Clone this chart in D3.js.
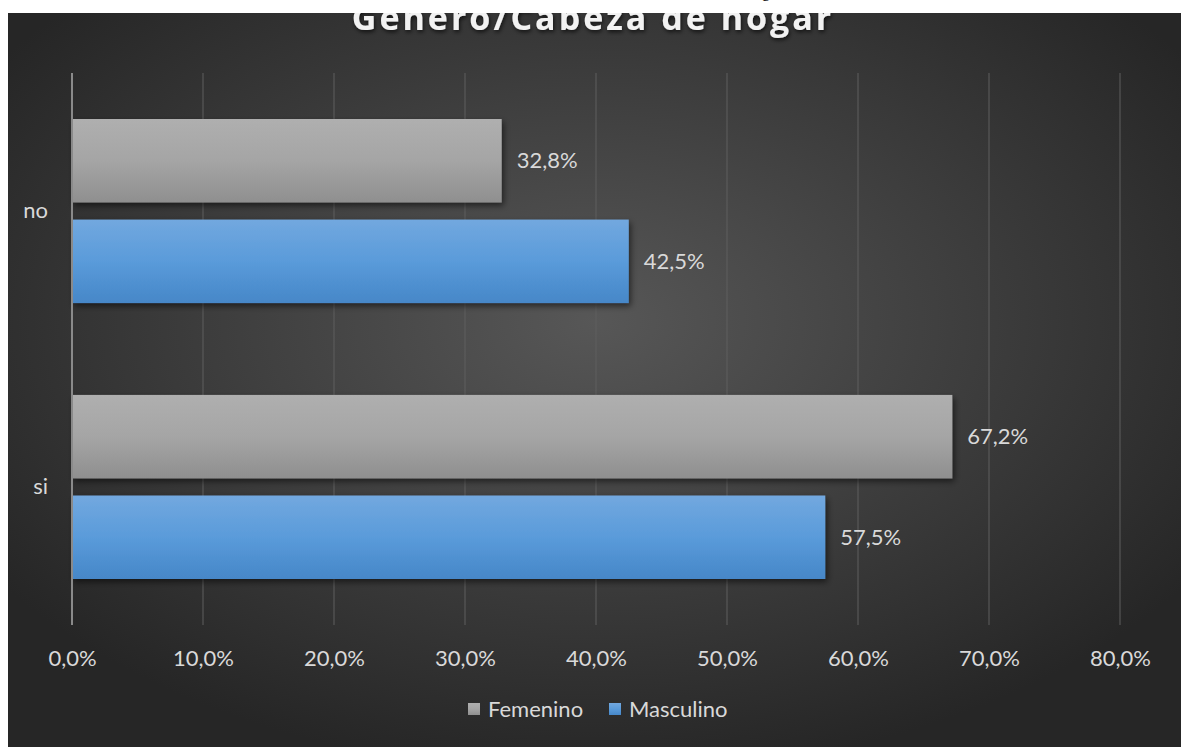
<!DOCTYPE html>
<html><head><meta charset="utf-8">
<script src="https://cdn.jsdelivr.net/npm/d3@7"></script>
<style>html,body{margin:0;padding:0;background:#fff;}svg{display:block;}</style>
</head><body>
<script>
const categories = ["no", "si"];
const seriesNames = ["Femenino", "Masculino"];
const femenino = [0.328, 0.672];
const masculino = [0.425, 0.575];
const xTicks = [0, 0.1, 0.2, 0.3, 0.4, 0.5, 0.6, 0.7, 0.8];
const title = "Genero/Cabeza de hogar";

const W = 1183, H = 747;
const svg = d3.select("body").append("svg").attr("width", W).attr("height", H);
const defs = svg.append("defs");

const bg = defs.append("radialGradient").attr("id","bg").attr("cx","50%").attr("cy","42%").attr("r","62%");
bg.append("stop").attr("offset","0%").attr("stop-color","#575757");
bg.append("stop").attr("offset","100%").attr("stop-color","#262626");

const gGray = defs.append("linearGradient").attr("id","gGray").attr("x1",0).attr("y1",0).attr("x2",0).attr("y2",1);
gGray.append("stop").attr("offset","0%").attr("stop-color","#afafaf");
gGray.append("stop").attr("offset","50%").attr("stop-color","#a5a5a5");
gGray.append("stop").attr("offset","100%").attr("stop-color","#8f8f8f");
const gBlue = defs.append("linearGradient").attr("id","gBlue").attr("x1",0).attr("y1",0).attr("x2",0).attr("y2",1);
gBlue.append("stop").attr("offset","0%").attr("stop-color","#72a8df");
gBlue.append("stop").attr("offset","50%").attr("stop-color","#5a9bda");
gBlue.append("stop").attr("offset","100%").attr("stop-color","#4687c8");

const sh = defs.append("filter").attr("id","sh").attr("x","-10%").attr("y","-20%").attr("width","130%").attr("height","160%");
sh.append("feDropShadow").attr("dx",2).attr("dy",3).attr("stdDeviation",3).attr("flood-color","#000").attr("flood-opacity",0.55);
const tsh = defs.append("filter").attr("id","tsh").attr("x","-10%").attr("y","-50%").attr("width","120%").attr("height","200%");
tsh.append("feDropShadow").attr("dx",1).attr("dy",2).attr("stdDeviation",2).attr("flood-color","#000").attr("flood-opacity",0.7);

defs.append("clipPath").attr("id","chartClip").append("rect")
  .attr("x",8).attr("y",13).attr("width",1173).attr("height",H-13);

// small fragment of text from the page above the chart
svg.append("text").attr("x",762).attr("y",-3).attr("font-family","Liberation Serif").attr("font-size",16).attr("fill","#000").text("g");

svg.append("rect").attr("x",8).attr("y",13).attr("width",1173).attr("height",H-13).attr("fill","url(#bg)");

const m = {left:72, right:1120, top:73, bottom:625};
const x = d3.scaleLinear().domain([0, 0.8]).range([m.left, m.right]);
const y = d3.scaleBand().domain(categories).range([m.top, m.bottom]).paddingInner(0.333).paddingOuter(0.1667);
const ySub = d3.scaleBand().domain(seriesNames).range([0, y.bandwidth()]).paddingInner(0.17);

const fmt = v => d3.format(".1f")(v*100).replace(".", ",") + "%";
const font = "Lato, 'Open Sans', sans-serif";
const fs = 22;

// gridlines
svg.append("g").selectAll("line").data(xTicks.slice(1)).join("line")
  .attr("x1",d=>x(d)).attr("x2",d=>x(d)).attr("y1",m.top).attr("y2",m.bottom)
  .attr("stroke","#5e5e5e").attr("stroke-width",1);

// x axis labels
const xAxis = d3.axisBottom(x).tickValues(xTicks).tickFormat(fmt).tickSize(0).tickPadding(0);
const ax = svg.append("g").attr("transform",`translate(0,${m.bottom+41})`).call(xAxis);
ax.select(".domain").remove();
ax.selectAll("text").attr("fill","#d9d9d9").attr("font-size",fs).attr("font-family",font).attr("dy","0");

// bars
const data = [];
categories.forEach((c,i)=>{
  data.push({cat:c, s:"Femenino", v:femenino[i], fill:"url(#gGray)"});
  data.push({cat:c, s:"Masculino", v:masculino[i], fill:"url(#gBlue)"});
});
svg.append("g").selectAll("rect").data(data).join("rect")
  .attr("x",x(0)).attr("y",d=>y(d.cat)+ySub(d.s))
  .attr("width",d=>x(d.v)-x(0)).attr("height",ySub.bandwidth())
  .attr("fill",d=>d.fill).attr("filter","url(#sh)");

svg.append("g").selectAll("text").data(data).join("text")
  .attr("x",d=>x(d.v)+15).attr("y",d=>y(d.cat)+ySub(d.s)+ySub.bandwidth()/2)
  .attr("dy","0.35em").attr("fill","#d9d9d9").attr("font-size",fs).attr("font-family",font)
  .text(d=>fmt(d.v));

// y axis line
svg.append("line").attr("x1",x(0)).attr("x2",x(0)).attr("y1",m.top).attr("y2",m.bottom)
  .attr("stroke","#8a8a8a").attr("stroke-width",2);

// y axis labels
const yAxis = d3.axisLeft(y).tickSize(0).tickPadding(0);
const ay = svg.append("g").attr("transform",`translate(${m.left-24},0)`).call(yAxis);
ay.select(".domain").remove();
ay.selectAll("text").attr("fill","#d9d9d9").attr("font-size",fs).attr("font-family",font);

// title
svg.append("g").attr("clip-path","url(#chartClip)").append("text")
  .attr("x",593).attr("y",30).attr("text-anchor","middle")
  .attr("font-family","'Open Sans', sans-serif").attr("font-weight",700).attr("font-size",34)
  .attr("letter-spacing",3).attr("fill","#f2f2f2").attr("filter","url(#tsh)").text(title);

// legend
const leg = svg.append("g").attr("transform","translate(0,709)");
const legItems = [{n:seriesNames[0], f:"url(#gGray)", x:468},{n:seriesNames[1], f:"url(#gBlue)", x:609}];
legItems.forEach(it=>{
  leg.append("rect").attr("x",it.x).attr("y",-6).attr("width",12).attr("height",12).attr("fill",it.f);
  leg.append("text").attr("x",it.x+20).attr("y",0).attr("dy","0.35em").attr("fill","#d9d9d9")
    .attr("font-size",fs).attr("font-family",font).text(it.n);
});
</script>
</body></html>
